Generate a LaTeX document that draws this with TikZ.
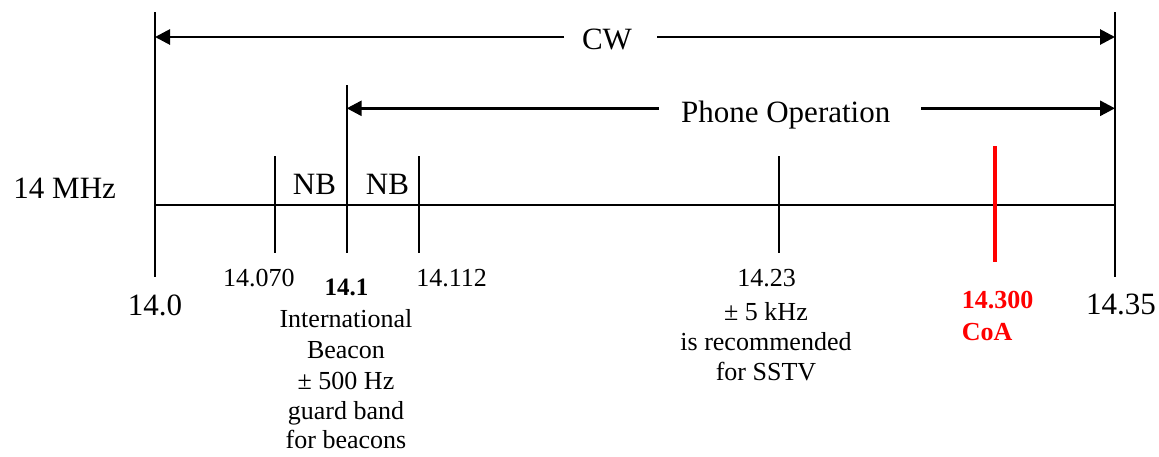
\documentclass[tikz,border=0pt]{standalone}
\usepackage{fontspec}
\setmainfont{Liberation Serif}
\usetikzlibrary{arrows.meta}
\begin{document}
\begin{tikzpicture}[x=1pt,y=-1pt,
  axis/.style={line width=2pt, line cap=butt},
  dimarrow/.style={line width=2.8pt,-{Triangle[length=15pt,width=15pt]}},
  big/.style={font=\fontsize{31}{31}\selectfont, inner sep=0pt, anchor=base},
  small/.style={font=\fontsize{26}{26}\selectfont, inner sep=0pt, anchor=base},
  redtick/.style={line width=4pt, draw=red},
  redlabel/.style={font=\fontsize{26}{26}\selectfont\bfseries, text=red, inner sep=0pt, anchor=base west}]
\useasboundingbox (0,0) rectangle (1159,456);

% named points
\coordinate (L0) at (155,205);
\coordinate (L1) at (1115,205);
\coordinate (leftTop) at (155,12);
\coordinate (leftBot) at (155,277);
\coordinate (rightTop) at (1115,12);
\coordinate (rightBot) at (1115,277);
\coordinate (t070Top) at (275,156);
\coordinate (t070Bot) at (275,253);
\coordinate (t100Top) at (346.7,85);
\coordinate (t100Bot) at (346.7,253);
\coordinate (t112Top) at (418.7,156);
\coordinate (t112Bot) at (418.7,253);
\coordinate (t230Top) at (778.7,156);
\coordinate (t230Bot) at (778.7,253);
\coordinate (t300Top) at (995,146);
\coordinate (t300Bot) at (995,262);

% arrow end points
\coordinate (cwGapL) at (564,37);
\coordinate (cwGapR) at (657,37);
\coordinate (cwTipL) at (155,37);
\coordinate (cwTipR) at (1115,37);
\coordinate (phGapL) at (658.5,108.3);
\coordinate (phGapR) at (921,108.3);
\coordinate (phTipL) at (346.7,108.3);
\coordinate (phTipR) at (1115,108.3);

% axis lines
\draw[axis] (L0) -- (L1);
\draw[axis] (leftTop) -- (leftBot);
\draw[axis] (rightTop) -- (rightBot);
\draw[axis] (t070Top) -- (t070Bot);
\draw[axis] (t100Top) -- (t100Bot);
\draw[axis] (t112Top) -- (t112Bot);
\draw[axis] (t230Top) -- (t230Bot);
\draw[redtick] (t300Top) -- (t300Bot);

% range arrows
\draw[dimarrow] (cwGapL) -- (cwTipL);
\draw[dimarrow] (cwGapR) -- (cwTipR);
\draw[dimarrow] (phGapL) -- (phTipL);
\draw[dimarrow] (phGapR) -- (phTipR);

% big labels
\node[big] (cw) at (607,49.3) {CW};
\node[big] (phone) at (785.7,122.7) {Phone Operation};
\node[big] (mhz) at (64.7,198.3) {14 MHz};
\node[big] (nb1) at (314.5,194.3) {NB};
\node[big] (nb2) at (387.5,194.3) {NB};
\node[big] (f0) at (155,315) {14.0};
\node[big] (f35) at (1121,314) {14.35};

% small labels
\node[small] (f070) at (258.8,286) {14.070};
\node[small] (f112) at (451.7,286) {14.112};
\node[small, font=\fontsize{25}{25}\selectfont\bfseries] (f100) at (346.5,295) {14.1};
\node[small] (b1) at (346,327) {International};
\node[small] (b2) at (346,358) {Beacon};
\node[small] (b3) at (346,389) {± 500 Hz};
\node[small] (b4) at (346,419) {guard band};
\node[small] (b5) at (346,448) {for beacons};

\node[small] (f23) at (766.5,286.7) {14.23};
\node[small] (s1) at (766,320) {± 5 kHz};
\node[small] (s2) at (766,350) {is recommended};
\node[small] (s3) at (766,380.7) {for SSTV};

\node[redlabel] (f300) at (961.7,308) {14.300};
\node[redlabel] (coa) at (961.7,340) {CoA};
\end{tikzpicture}
\end{document}
